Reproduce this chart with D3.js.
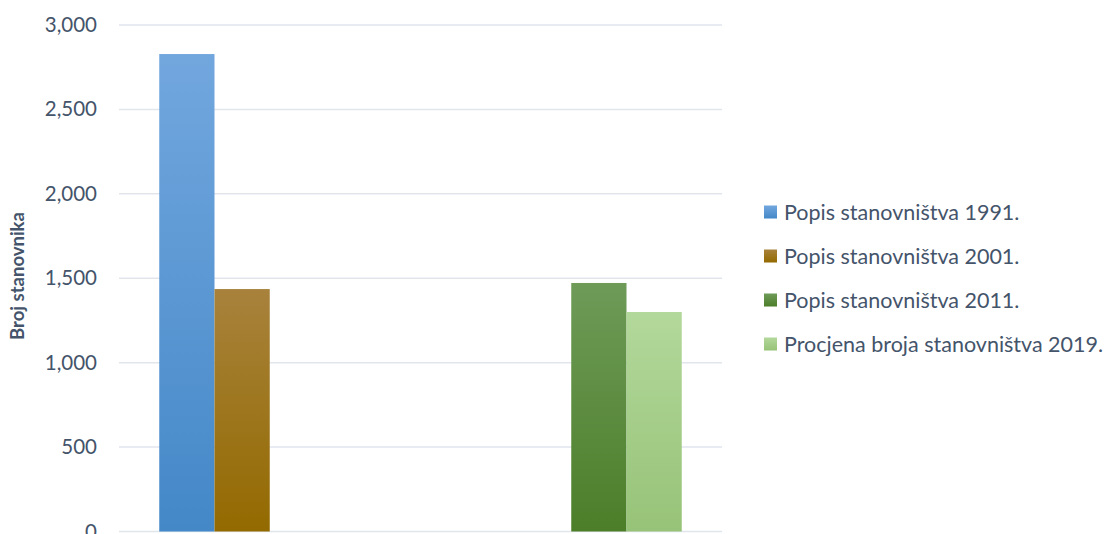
<!DOCTYPE html>
<html><head><meta charset="utf-8">
<script src="https://cdn.jsdelivr.net/npm/d3@7"></script>
<style>body{margin:0;background:#fff}svg{display:block}text{font-family:Lato,"Open Sans",sans-serif}</style>
</head><body>
<svg id="c" width="1117" height="534"></svg>
<script>
const categories = ["A", "B"];
const seriesNames = ["Popis stanovništva 1991.", "Popis stanovništva 2001.", "Popis stanovništva 2011.", "Procjena broja stanovništva 2019."];
const s1991 = [2828, null];
const s2001 = [1436, null];
const s2011 = [null, 1472];
const s2019 = [null, 1300];
const yTicks = [0, 500, 1000, 1500, 2000, 2500, 3000];
const yTitle = "Broj stanovnika";
const topColors = ["#72a7de", "#a8823c", "#6e9b58", "#b3d89b"];
const botColors = ["#4488c8", "#936a00", "#4c7e29", "#97c378"];

(function(){
const seriesVals = [s1991, s2001, s2011, s2019];
const svg = d3.select("#c");
const pL = 119, pR = 722, pT = 25, pB = 531.5;
const x0 = d3.scaleBand().domain(categories).range([pL, pR]).padding(0);
const groupW = 221;
const x1 = d3.scaleBand().domain(seriesNames).range([(x0.bandwidth()-groupW)/2, (x0.bandwidth()+groupW)/2]).padding(0);
const y = d3.scaleLinear().domain([0, 3000]).range([pB, pT]);

const defs = svg.append("defs");
seriesNames.forEach((s,i)=>{
  const g = defs.append("linearGradient").attr("id","g"+i).attr("x1",0).attr("y1",0).attr("x2",0).attr("y2",1);
  g.append("stop").attr("offset","0%").attr("stop-color",topColors[i]);
  g.append("stop").attr("offset","100%").attr("stop-color",botColors[i]);
});

svg.append("g").selectAll("line").data(yTicks).join("line")
  .attr("x1", pL).attr("x2", pR).attr("y1", d=>y(d)).attr("y2", d=>y(d))
  .attr("stroke", "#e1e5ec").attr("stroke-width", 1.5);

const yAxis = d3.axisLeft(y).tickValues(yTicks).tickFormat(d3.format(",")).tickSize(0).tickPadding(22);
const ga = svg.append("g").attr("transform", `translate(${pL},0)`).call(yAxis);
ga.select(".domain").remove();
ga.selectAll("text").attr("fill", "#44546a").style("font-size", "20.5px").style("font-family", "Lato,sans-serif");

const data = [];
categories.forEach((c,ci)=>seriesNames.forEach((s,si)=>{ if(seriesVals[si][ci]!=null) data.push({c, s, si, v: seriesVals[si][ci]}); }));
svg.append("g").selectAll("rect").data(data).join("rect")
  .attr("x", d=>x0(d.c)+x1(d.s)).attr("width", x1.bandwidth())
  .attr("y", d=>y(d.v)).attr("height", d=>y(0)-y(d.v))
  .attr("fill", d=>`url(#g${d.si})`);

svg.append("text").attr("transform", `translate(24,276) rotate(-90)`)
  .attr("text-anchor","middle").attr("fill","#44546a").style("font-size","18.5px").style("font-weight","bold").text(yTitle);

const lg = svg.append("g");
seriesNames.forEach((s,i)=>{
  const cy = 212 + i*44;
  lg.append("rect").attr("x", 764).attr("y", cy-6.5).attr("width", 13).attr("height", 13).attr("fill", `url(#g${i})`);
  lg.append("text").attr("x", 784).attr("y", cy).attr("dy","0.35em").attr("fill","#44546a").style("font-size","21.5px").text(s);
});
})();
</script>
</body></html>
